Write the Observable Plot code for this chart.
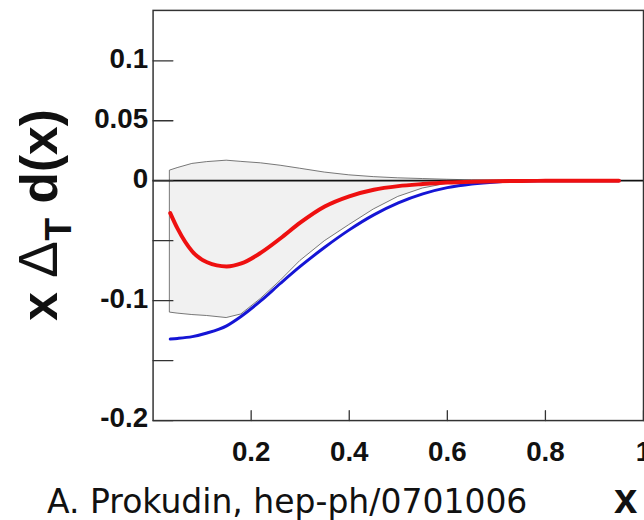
<!DOCTYPE html>
<html><head><meta charset="utf-8">
<script src="https://cdn.jsdelivr.net/npm/d3@7"></script>
<script src="https://cdn.jsdelivr.net/npm/@observablehq/plot@0.6"></script>
<style>
html,body{margin:0;padding:0;overflow:hidden;background:#fff;width:644px;height:520px}
#chart svg{display:block}
#cap{position:relative;height:50px;width:644px}
#cap .a{position:absolute;left:47px;top:19px;font-family:"DejaVu Sans";font-size:33px;line-height:33px;color:#111;white-space:nowrap}
#cap .x{position:absolute;left:614px;top:12px;font-family:"Liberation Sans";font-weight:bold;font-size:42px;line-height:42px;color:#111}
</style></head><body>
<div id="chart"></div>
<div id="cap"><span class="a">A. Prokudin, hep-ph/0701006</span><span class="x">x</span></div>
<script>
// x grid (momentum fraction)
const xs     = [0.035, 0.05, 0.08, 0.11, 0.15, 0.18, 0.22, 0.26, 0.30, 0.35, 0.40, 0.45, 0.50, 0.55, 0.60, 0.65, 0.70, 0.75, 0.80, 0.85, 0.90, 0.95];
// red curve
const red    = [-0.027, -0.040, -0.059, -0.068, -0.0715, -0.069, -0.060, -0.048, -0.035, -0.0215, -0.013, -0.0075, -0.0045, -0.0028, -0.0015, -0.0008, -0.0004, -0.0002, -0.0001, 0, 0, 0];
// blue curve
const blue   = [-0.132, -0.1315, -0.130, -0.127, -0.121, -0.113, -0.100, -0.0855, -0.0715, -0.0555, -0.041, -0.0285, -0.0185, -0.011, -0.0058, -0.0027, -0.001, -0.0003, -0.0001, 0, 0, 0];
// uncertainty band
const bandHi = [0.0085, 0.0105, 0.014, 0.0155, 0.0167, 0.0157, 0.0145, 0.0125, 0.010, 0.0068, 0.0045, 0.003, 0.002, 0.0014, 0.0008, 0.0003, 0.0001, 0, 0, 0, 0, 0];
const bandLo = [-0.110, -0.1108, -0.112, -0.1128, -0.1145, -0.1115, -0.0985, -0.0835, -0.067, -0.0505, -0.037, -0.024, -0.0135, -0.0065, -0.0025, -0.001, -0.0003, 0, 0, 0, 0, 0];
// ticks
const yTickValues  = [-0.2, -0.15, -0.1, -0.05, 0, 0.05, 0.1];
const yLabelValues = [-0.2, -0.1, 0, 0.05, 0.1];
const xTickValues  = [0.2, 0.4, 0.6, 0.8, 1];

const rows = xs.map((x, i) => ({x, red: red[i], blue: blue[i], hi: bandHi[i], lo: bandLo[i]}));
const tickShape = {draw(ctx, l) { ctx.moveTo(0, 0); ctx.lineTo(0, -l); }};

const plot = Plot.plot({
  width: 650, height: 470,
  marginLeft: 154, marginRight: 1, marginTop: 10, marginBottom: 46,
  x: {domain: [0, 1]},
  y: {domain: [-0.2, 0.142]},
  style: {fontFamily: "Liberation Sans", fontWeight: "bold", fontSize: "28px", color: "#111", background: "#fff"},
  marks: [
    Plot.areaY(rows, {x: "x", y1: "lo", y2: "hi", fill: "#f1f1f1", stroke: "#555", strokeWidth: 0.8}),
    Plot.ruleY([0], {stroke: "#111", strokeWidth: 1.8}),
    Plot.line(rows, {x: "x", y: "blue", stroke: "#1515d5", strokeWidth: 3, curve: "monotone-x"}),
    Plot.line(rows, {x: "x", y: "red", stroke: "#ee1010", strokeWidth: 4, curve: "monotone-x"}),
    Plot.vector(xTickValues, {x: d => d, frameAnchor: "bottom", length: 10, anchor: "start", shape: tickShape, stroke: "#333", strokeWidth: 1.3}),
    Plot.vector(yTickValues, {y: d => d, frameAnchor: "left", rotate: 90, length: 20, anchor: "start", shape: tickShape, stroke: "#333", strokeWidth: 1.3}),
    Plot.axisX({ticks: xTickValues, tickSize: 0, tickPadding: 21, tickFormat: d => String(d), label: null, fontSize: 28, fontWeight: "bold"}),
    Plot.axisY({ticks: yLabelValues, tickSize: 0, tickPadding: 5, tickFormat: d => String(d), label: null, fontSize: 28, fontWeight: "bold", dy: -2}),
    Plot.frame({stroke: "#333", strokeWidth: 1.5})
  ]
});
document.getElementById("chart").appendChild(plot);

// rotated y-axis label: x Δ_T d(x)
const t = d3.select(plot).append("text")
  .attr("transform", "translate(58,217) rotate(-90)")
  .attr("text-anchor", "middle")
  .attr("fill", "#111")
  .style("font-family", "Liberation Sans")
  .style("font-weight", "bold")
  .style("font-size", "52px");
t.append("tspan").text("x ");
t.append("tspan").text("Δ").style("font-weight", "normal").style("font-size", "56px");
t.append("tspan").text("T").style("font-size", "38px").attr("dy", 14);
t.append("tspan").text(" d(x)").attr("dy", -14);
</script>
</body></html>
